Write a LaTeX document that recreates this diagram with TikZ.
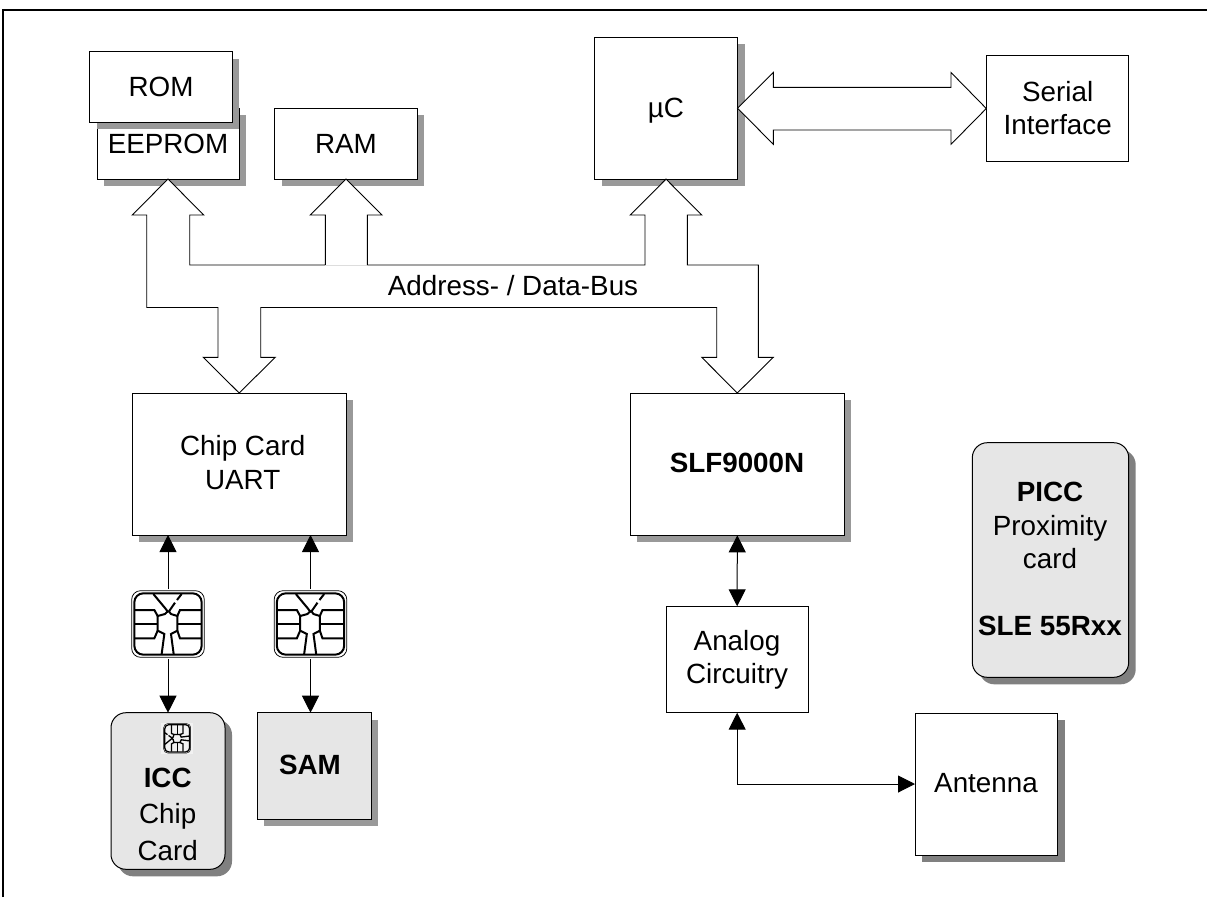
\documentclass[tikz,border=0pt]{standalone}
\usepackage{fontspec}
\setmainfont{Liberation Sans}
\usetikzlibrary{arrows.meta,shadows,calc}
\definecolor{shadowA}{HTML}{999999}
\definecolor{shadowB}{HTML}{808080}
\definecolor{cardfill}{HTML}{E6E6E6}
\definecolor{busfaint}{HTML}{DDDDDD}
\definecolor{iconbg}{HTML}{F2F2F2}
\tikzset{
  boxbase/.style={draw=black,fill=white,line width=1pt,inner sep=0pt,outer sep=0pt,anchor=north west},
  plainbox/.style={boxbase},
  shadowbox/.style={boxbase,general shadow={fill=shadowA,shadow xshift=7pt,shadow yshift=-7pt}},
  darkshadowbox/.style={boxbase,general shadow={fill=shadowB,shadow xshift=7pt,shadow yshift=-7pt}},
  cardbox/.style={boxbase,fill=cardfill,rounded corners=15pt,general shadow={fill=shadowB,shadow xshift=7pt,shadow yshift=-7pt}},
  lbl/.style={font=\fontsize{27.8}{33.3}\selectfont,inner sep=0pt,anchor=base,align=center},
  bus/.style={draw=black,fill=white,line width=.9pt,line join=miter},
  conn/.style={draw=black,line width=1pt,-{Triangle[length=17pt,width=17pt]}},
  conn2/.style={draw=black,line width=1pt,{Triangle[length=17pt,width=17pt]}-{Triangle[length=17pt,width=17pt]}},
  chiphold/.style={inner sep=0pt,outer sep=0pt,minimum width=73pt,minimum height=70pt},
  pics/chipicon/.style={code={
    \begin{scope}[shift={(-109,-100)}]
      \draw[rounded corners=#1,line width=.6\pgflinewidth] (0,0) rectangle (218,200);
      \draw[rounded corners=#1,line width=1.0\pgflinewidth] (8,8) rectangle (210,192);
      % contact rows
      \draw (10,58) -- (68,58) -- (78,76) -- (100,70) -- (110,60);
      \draw (10,100) -- (78,100);
      \draw (10,143) -- (68,143) -- (78,120);
      \draw (65,10) -- (100,52) -- (110,65);
      \draw (78,76) -- (78,120) -- (98,130) -- (90,190);
      \draw (208,58) -- (145,58) -- (137,76) -- (118,70) -- (112,62) -- (130,36);
      \draw (136,28) -- (150,10);
      \draw (208,100) -- (137,100);
      \draw (208,143) -- (145,143) -- (137,120);
      \draw (137,76) -- (137,120) -- (118,130) -- (126,190);
    \end{scope}
  }},
}
\begin{document}
\begin{tikzpicture}[x=1pt,y=-1pt]
\useasboundingbox (0,0) rectangle (1207,897);
\fill[white] (0,0) rectangle (1207,897);
% frame (top and left edges only)
\draw[black,line width=2.2pt] (2.8,897) -- (2.8,10) -- (1207,10);

% boxes
\node[shadowbox,minimum width=142pt,minimum height=71pt] (eeprom) at (97,108) {};
\node[shadowbox,minimum width=142.5pt,minimum height=70.5pt] (rom) at (89.5,51.7) {};
\node[shadowbox,minimum width=142.5pt,minimum height=71pt] (ram) at (274.7,108) {};
\node[shadowbox,minimum width=143pt,minimum height=141.8pt] (uc) at (594.5,37.3) {};
\node[plainbox,minimum width=142.4pt,minimum height=106.4pt] (serial) at (986.3,55.3) {};
\node[shadowbox,minimum width=213.7pt,minimum height=142pt] (uart) at (132.3,393) {};
\node[shadowbox,minimum width=214pt,minimum height=142.3pt] (slf) at (630.3,393) {};
\node[plainbox,minimum width=142.3pt,minimum height=106.4pt] (analog) at (666,606.3) {};
\node[darkshadowbox,minimum width=142.7pt,minimum height=142pt] (antenna) at (915,713) {};
\node[cardbox,minimum width=156.4pt,minimum height=234.6pt] (picc) at (972.3,442.7) {};
\node[cardbox,minimum width=114pt,minimum height=156.6pt] (icc) at (111,712.7) {};
\node[shadowbox,fill=cardfill,minimum width=114pt,minimum height=106.6pt] (sam) at (257,712.7) {};

% chip contact symbols
\node[chiphold] (chipa) at (168,624) {};
\node[chiphold] (chipb) at (310.5,624) {};
\pic[line width=2pt,scale=.3333] at (chipa) {chipicon=9pt};
\pic[line width=2pt,scale=.3333] at (chipb) {chipicon=9pt};
\node[fill=iconbg,inner sep=0pt,minimum width=32pt,minimum height=31pt] (chipc) at (177.2,738.3) {};
\pic[line width=1.3pt,scale=.135,rotate=90] at (chipc) {chipicon=4pt};

% wide bus arrows
\path[bus] (367.3,265) -- (645,265) -- (645,215) -- (630.3,215) -- (uc.south) -- (701.7,215) -- (687.3,215)
  -- (687.3,265) -- (758.3,265) -- (758.3,357.3) -- (773.3,357.3) -- (slf.north) -- (701.7,357.3) -- (716.7,357.3)
  -- (716.7,307.5) -- (260.7,307.5) -- (260.7,357.3) -- (275.3,357.3) -- (uart.north) -- (203.3,357.3) -- (218,357.3)
  -- (218,307.5) -- (146.7,307.5) -- (146.7,215) -- (132.3,215) -- (eeprom.south) -- (203.7,215) -- (189.7,215)
  -- (189.7,265) -- (325.3,265) -- (325.3,215) -- (310.3,215) -- (ram.south) -- (382,215) -- (367.3,215) -- (367.3,265);
\draw[busfaint,line width=1pt] (325.3,265) -- (367.3,265);
\draw[bus] (uc.east) -- (773.3,72.5) -- (773.3,87.3) -- (951,87.3) -- (951,72.5) -- (serial.west) -- (951,144.3) -- (951,130)
  -- (773.3,130) -- (773.3,144.3) -- cycle;

% thin connectors
\draw[conn] (chipa.north) -- (chipa.north |- uart.south);
\draw[conn] (chipb.north) -- (chipb.north |- uart.south);
\draw[conn] (chipa.south) -- (chipa.south |- icc.north);
\draw[conn] (chipb.south) -- (chipb.south |- sam.north);
\draw[conn2] (slf.south) -- (analog.north);
\draw[conn2] (analog.south) |- (antenna.west);

% labels
\node[lbl] (trom) at (161,96) {ROM};
\node[lbl] (teeprom) at (168,153.3) {EEPROM};
\node[lbl] (tram) at (346,153.3) {RAM};
\node[lbl] (tuc) at (666,117.3) {µC};
\node[lbl] (tserial) at (1057.7,134.3) {Serial\\Interface};
\node[lbl] (tuart) at (242.7,489) {Chip Card\\UART};
\node[lbl] (tslf) at (737,472.7) {\bfseries SLF9000N};
\node[lbl] (tanalog) at (737,683.3) {Analog\\Circuitry};
\node[lbl] (tantenna) at (986,792.7) {Antenna};
\node[lbl] (tpicc) at (1050,635) {\bfseries PICC\\Proximity\\card\\[33.3pt]\bfseries SLE 55Rxx};
\node[lbl] (ticc) at (167.7,860.7) {\bfseries ICC\\[2.7pt]Chip\\[4pt]Card};
\node[lbl] (tsam) at (310,774.3) {\bfseries SAM};
\node[lbl] (tbus) at (513,295) {Address- / Data-Bus};
\end{tikzpicture}
\end{document}
